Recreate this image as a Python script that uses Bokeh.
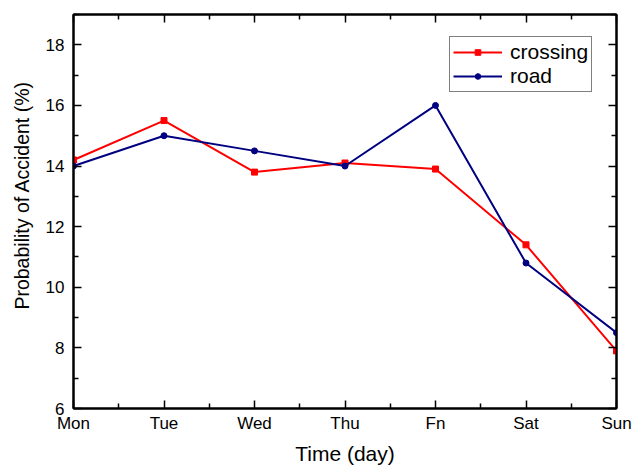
from bokeh.plotting import figure
from bokeh.models import (ColumnDataSource, FixedTicker, LinearAxis, Legend,
                          LegendItem, Range1d)
from bokeh.embed import file_html
from bokeh.resources import INLINE

# Weekly accident probability by location type
days = ["Mon", "Tue", "Wed", "Thu", "Fn", "Sat", "Sun"]
crossing = [14.2, 15.5, 13.8, 14.1, 13.9, 11.4, 7.9]
road = [14.0, 15.0, 14.5, 14.0, 16.0, 10.8, 8.5]
y_ticks = [6, 8, 10, 12, 14, 16, 18]

FONT = "Liberation Sans"
x_pos = list(range(len(days)))

src = ColumnDataSource(data=dict(x=x_pos, crossing=crossing, road=road))

p = figure(width=632, height=467, output_backend="svg", toolbar_location=None,
           x_range=Range1d(0, len(days) - 1), y_range=Range1d(6, 19),
           min_border_left=73, min_border_right=16, min_border_top=14,
           min_border_bottom=59)
p.xgrid.visible = False
p.ygrid.visible = False
p.outline_line_color = "black"
p.outline_line_width = 2
p.background_fill_color = "white"
p.border_fill_color = "white"

x_ticker = FixedTicker(ticks=x_pos, minor_ticks=[i + 0.5 for i in x_pos[:-1]])
y_ticker = FixedTicker(ticks=y_ticks, minor_ticks=[t + 1 for t in y_ticks])

bottom = p.below[0]
left = p.left[0]
bottom.ticker = x_ticker
bottom.major_label_overrides = {i: d for i, d in enumerate(days)}
left.ticker = y_ticker
bottom.axis_label = "Time (day)"
# leading no-break spaces lift the rotated title a little above centre
left.axis_label = "\u00a0" * 6 + "Probability of Accident (%)"

# mirrored axes on top and right, ticks only (blank labels)
top = LinearAxis(ticker=x_ticker, major_label_standoff=0,
                 major_label_overrides={i: "" for i in x_pos})
right = LinearAxis(ticker=y_ticker, major_label_standoff=0,
                   major_label_overrides={t: "" for t in y_ticks})
p.add_layout(top, "above")
p.add_layout(right, "right")

for ax in (bottom, left, top, right):
    ax.axis_line_color = "black"
    ax.axis_line_width = 2
    ax.major_tick_in = 8
    ax.major_tick_out = 0
    ax.minor_tick_in = 5
    ax.minor_tick_out = 0
    ax.major_tick_line_width = 1.5
    ax.minor_tick_line_width = 1.5
    ax.major_tick_line_color = "black"
    ax.minor_tick_line_color = "black"

for ax in (bottom, left):
    ax.major_label_text_font = FONT
    ax.major_label_text_font_size = "17px"
    ax.major_label_text_color = "black"
    ax.axis_label_text_font = FONT
    ax.axis_label_text_font_style = "normal"
    ax.axis_label_text_color = "black"

bottom.axis_label_text_font_size = "21px"
left.axis_label_text_font_size = "19.5px"
bottom.major_label_standoff = 5
left.major_label_standoff = 9
bottom.axis_label_standoff = 6
left.axis_label_standoff = 10

red = "#ff0000"
navy = "#000080"
c_line = p.line("x", "crossing", source=src, line_color=red, line_width=2)
c_mark = p.scatter("x", "crossing", source=src, marker="square", size=6,
                   fill_color=red, line_color=red)
r_line = p.line("x", "road", source=src, line_color=navy, line_width=2)
r_mark = p.scatter("x", "road", source=src, marker="circle", size=6,
                   fill_color=navy, line_color=navy)

legend = Legend(items=[LegendItem(label="crossing", renderers=[c_line, c_mark]),
                       LegendItem(label="road", renderers=[r_line, r_mark])],
                location=(376, 316))
legend.label_text_font = FONT
legend.label_text_font_size = "21px"
legend.label_text_color = "black"
legend.glyph_width = 49
legend.glyph_height = 14
legend.label_height = 14
legend.label_standoff = 8
legend.spacing = 0
legend.padding = 3
legend.margin = 0
legend.border_line_color = "black"
legend.border_line_width = 1
legend.background_fill_alpha = 1
p.add_layout(legend, "center")

open("out.html", "w").write(file_html(p, INLINE))
